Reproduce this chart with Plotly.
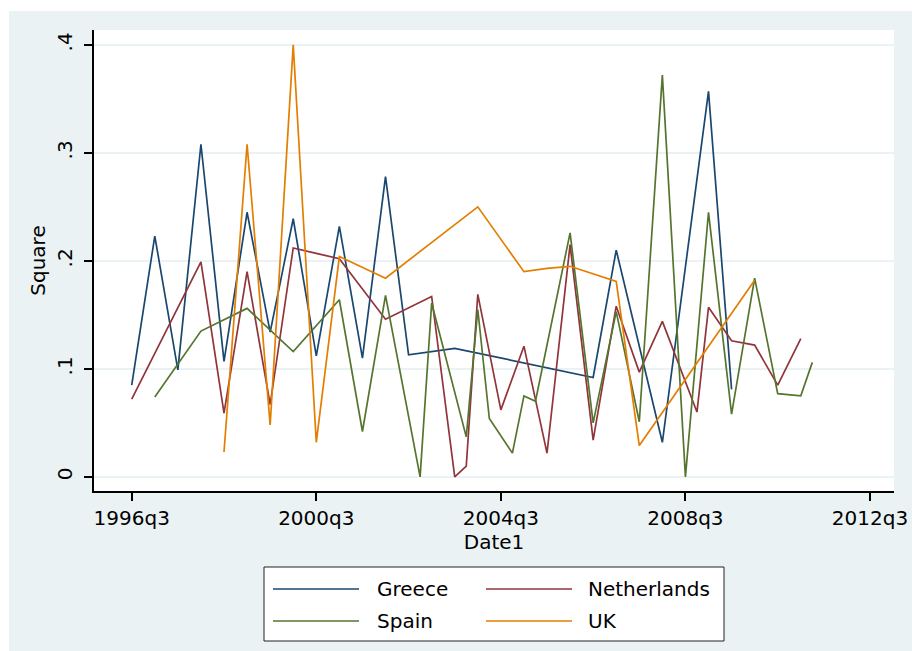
import plotly.graph_objects as go

# Quarterly series (Stata %tq style labels)
greece_q = ["1996q3", "1997q1", "1997q3", "1998q1", "1998q3", "1999q1", "1999q3",
            "2000q1", "2000q3", "2001q1", "2001q3", "2002q1", "2002q3", "2003q3",
            "2006q3", "2007q1", "2008q1", "2009q1", "2009q3"]
greece_v = [0.085, 0.223, 0.099, 0.308, 0.107, 0.245, 0.134,
            0.239, 0.112, 0.232, 0.110, 0.278, 0.113, 0.119,
            0.092, 0.210, 0.032, 0.357, 0.081]

neth_q = ["1996q3", "1998q1", "1998q3", "1999q1", "1999q3", "2000q1", "2000q3",
          "2001q1", "2002q1", "2003q1", "2003q3", "2003q4", "2004q1", "2004q3",
          "2005q1", "2005q3", "2006q1", "2006q3", "2007q1", "2007q3", "2008q1",
          "2008q4", "2009q1", "2009q3", "2010q1", "2010q3", "2011q1"]
neth_v = [0.072, 0.199, 0.059, 0.190, 0.067, 0.212, 0.207,
          0.202, 0.146, 0.167, 0.000, 0.010, 0.169, 0.062,
          0.121, 0.022, 0.215, 0.034, 0.158, 0.097, 0.144,
          0.060, 0.157, 0.126, 0.122, 0.085, 0.128]

spain_q = ["1997q1", "1998q1", "1999q1", "2000q1", "2001q1", "2001q3", "2002q1",
           "2002q4", "2003q1", "2003q4", "2004q1", "2004q2", "2004q4", "2005q1",
           "2005q2", "2006q1", "2006q3", "2007q1", "2007q3", "2008q1", "2008q3",
           "2009q1", "2009q3", "2010q1", "2010q3", "2011q1", "2011q2"]
spain_v = [0.074, 0.135, 0.156, 0.116, 0.164, 0.042, 0.168,
           0.000, 0.161, 0.037, 0.155, 0.054, 0.022, 0.075,
           0.070, 0.226, 0.050, 0.153, 0.051, 0.372, 0.000,
           0.245, 0.058, 0.184, 0.077, 0.075, 0.106]

uk_q = ["1998q3", "1999q1", "1999q3", "2000q1", "2000q3", "2001q1", "2002q1",
        "2004q1", "2005q1", "2005q3", "2006q1", "2007q1", "2007q3", "2010q1"]
uk_v = [0.023, 0.308, 0.048, 0.400, 0.032, 0.204, 0.184,
        0.250, 0.190, 0.193, 0.195, 0.181, 0.029, 0.182]

x_ticks = ["1996q3", "2000q3", "2004q3", "2008q3", "2012q3"]
y_ticks = [0, 0.1, 0.2, 0.3, 0.4]
y_ticktext = ["0", ".1", ".2", ".3", ".4"]

series_names = ["Greece", "Netherlands", "Spain", "UK"]
series_colors = ["#1A476F", "#90353B", "#55752F", "#E37E00"]
series_data = [(greece_q, greece_v), (neth_q, neth_v), (spain_q, spain_v), (uk_q, uk_v)]


def tq(label):
    """Quarter label -> Stata quarterly index (quarters since 1960q1)."""
    year, q = label.split("q")
    return (int(year) - 1960) * 4 + int(q) - 1


FONT = "DejaVu Sans"
BG = "#EAF2F3"
LINE_W = 1.7
W, H = 912, 651
L, R, T, B = 94, 18, 30, 160
PW, PH = W - L - R, H - T - B


def px_x(x):
    return (x - L) / PW


def px_y(y):
    return (H - B - y) / PH


fig = go.Figure()
for name, color, (qs, vs) in zip(series_names, series_colors, series_data):
    fig.add_trace(go.Scatter(
        x=[tq(s) for s in qs], y=vs, mode="lines", name=name,
        line=dict(color=color, width=LINE_W), showlegend=False,
    ))

shapes = [
    # graph region background
    dict(type="rect", xref="paper", yref="paper", layer="below",
         x0=px_x(9), x1=px_x(W), y0=px_y(H), y1=px_y(11),
         fillcolor=BG, line=dict(width=0)),
    # plot region
    dict(type="rect", xref="paper", yref="paper", layer="below",
         x0=0, x1=1, y0=0, y1=1, fillcolor="white", line=dict(width=0)),
    # legend frame
    dict(type="rect", xref="paper", yref="paper", layer="below",
         x0=px_x(264), x1=px_x(724), y0=px_y(641), y1=px_y(567),
         fillcolor="white", line=dict(color="#222222", width=1)),
]

annotations = []
legend_cols = [(273, 359, 375), (486, 572, 586)]
legend_rows = [589, 621]
for i, (name, color) in enumerate(zip(series_names, series_colors)):
    lx0, lx1, tx = legend_cols[i % 2]
    ly = legend_rows[i // 2]
    shapes.append(dict(type="line", xref="paper", yref="paper", layer="above",
                       x0=px_x(lx0), x1=px_x(lx1), y0=px_y(ly), y1=px_y(ly),
                       line=dict(color=color, width=LINE_W)))
    annotations.append(dict(xref="paper", yref="paper", x=px_x(tx), y=px_y(ly),
                            text=name, showarrow=False, xanchor="left", yanchor="middle",
                            font=dict(family=FONT, size=20, color="black")))

fig.update_layout(
    width=W, height=H,
    margin=dict(l=L, r=R, t=T, b=B, pad=0, autoexpand=False),
    paper_bgcolor="white", plot_bgcolor="white",
    font=dict(family=FONT, size=20, color="black"),
    shapes=shapes, annotations=annotations,
    showlegend=False,
    xaxis=dict(
        range=[142.73, 212.08], automargin=False,
        tickvals=[tq(s) for s in x_ticks], ticktext=x_ticks,
        ticks="outside", ticklen=8, tickwidth=1.5, tickcolor="black",
        showline=True, linecolor="black", linewidth=1.5,
        showgrid=False, zeroline=False,
        tickfont=dict(family=FONT, size=20, color="black"),
        title=dict(text="Date1", font=dict(family=FONT, size=20, color="black"), standoff=0),
    ),
    yaxis=dict(
        range=[-0.0131, 0.4138], automargin=False,
        tickvals=y_ticks, ticktext=y_ticktext, tickangle=-90,
        ticks="outside", ticklen=8, tickwidth=1.5, tickcolor="black",
        ticklabelstandoff=4,
        showline=True, linecolor="black", linewidth=1.5,
        showgrid=True, gridcolor=BG, gridwidth=1.5, zeroline=False,
        tickfont=dict(family=FONT, size=20, color="black"),
        title=dict(text="Square", font=dict(family=FONT, size=20, color="black"), standoff=2),
    ),
)

fig.write_html("out.html")
